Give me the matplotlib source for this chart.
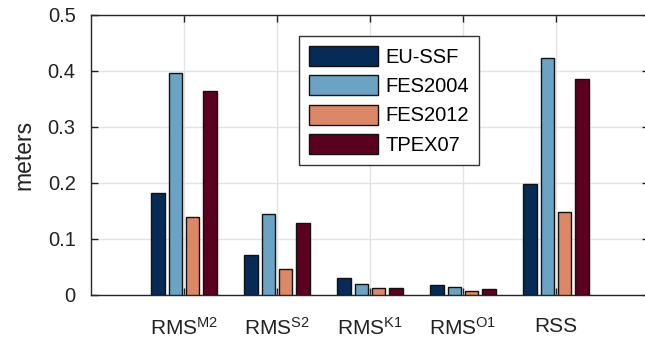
import numpy as np
import matplotlib
matplotlib.use("Agg")
import matplotlib.pyplot as plt

plt.rcParams['font.family'] = ['Liberation Sans', 'DejaVu Sans']
plt.rcParams['mathtext.fontset'] = 'custom'
plt.rcParams['mathtext.rm'] = 'Liberation Sans'
plt.rcParams['mathtext.it'] = 'Liberation Sans'

categories = [r'RMS$^{\mathrm{M2}}$', r'RMS$^{\mathrm{S2}}$', r'RMS$^{\mathrm{K1}}$',
              r'RMS$^{\mathrm{O1}}$', 'RSS']
models = ['EU-SSF', 'FES2004', 'FES2012', 'TPEX07']
eu_ssf = [0.182, 0.071, 0.030, 0.017, 0.199]
fes2004 = [0.397, 0.145, 0.019, 0.014, 0.423]
fes2012 = [0.140, 0.046, 0.012, 0.008, 0.148]
tpex07 = [0.365, 0.129, 0.013, 0.010, 0.386]

series = [eu_ssf, fes2004, fes2012, tpex07]
colors = ['#062b57', '#6ba3c5', '#dc8866', '#5c0020']

W, H = 645, 346
fig = plt.figure(figsize=(W / 100, H / 100), dpi=100)
ax = fig.add_axes([91 / W, (H - 295) / H, 558 / W, 280 / H])

x = np.arange(1, len(categories) + 1)
step = 0.183
for i, (vals, c, name) in enumerate(zip(series, colors, models)):
    ax.bar(x + (i - 1.5) * step, vals, width=0.15, color=c,
           edgecolor='#111111', linewidth=1.0, label=name, zorder=3)

ax.set_xlim(0, 6)
ax.set_ylim(0, 0.5)
ax.set_xticks(x)
ax.set_xticklabels(categories)
ax.set_yticks(np.arange(0, 0.51, 0.1))
ax.set_yticklabels(['0', '0.1', '0.2', '0.3', '0.4', '0.5'])
ax.set_ylabel('meters', fontsize=16.5, labelpad=9, color='#222222')
ax.grid(True, color='#e3e3e3', linewidth=1.0, zorder=0)
ax.set_axisbelow(True)
ax.tick_params(direction='in', length=5, width=1, top=True, right=True,
               labelsize=14.5, colors='#222222')
ax.tick_params(axis='x', pad=16, labelsize=15)
ax.tick_params(axis='y', pad=11)
for s in ax.spines.values():
    s.set_color('#262626')
    s.set_linewidth(1.0)

leg = ax.legend(loc='upper left', bbox_to_anchor=(299 / W, (H - 36) / H),
                bbox_transform=fig.transFigure, fontsize=14.5, frameon=True,
                fancybox=False, framealpha=1, edgecolor='#333333',
                handlelength=3.4, handleheight=1.15, labelspacing=0.42,
                handletextpad=0.4, borderpad=0.5, borderaxespad=0)
leg.get_frame().set_linewidth(1.0)

fig.savefig('out.png', dpi=100)
